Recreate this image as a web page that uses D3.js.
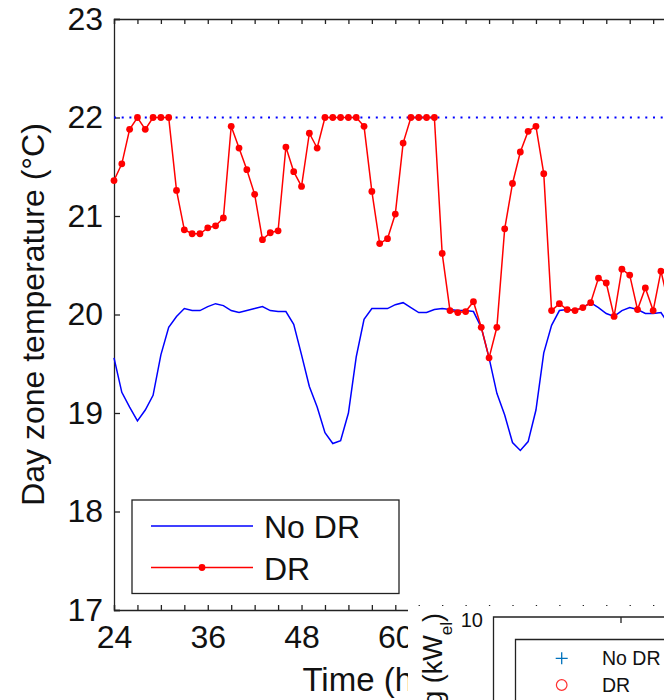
<!DOCTYPE html>
<html>
<head>
<meta charset="utf-8">
<script src="https://cdn.jsdelivr.net/npm/d3@7"></script>
<style>
  body { margin: 0; background: #fff; }
  text { font-family: "Liberation Sans", Arial, sans-serif; fill: #111; }
</style>
</head>
<body>
<div id="chartdiv"></div>
<script>
// data: hourly day zone temperature (°C), starting at hour 24
var startHour = 24;
var noDR = [19.56, 19.21, 19.06, 18.92, 19.03, 19.18, 19.59, 19.87, 19.98, 20.06,
            20.04, 20.04, 20.08, 20.11, 20.09, 20.04, 20.02, 20.04, 20.06, 20.08,
            20.04, 20.03, 20.03, 19.90, 19.59, 19.27, 19.06, 18.80, 18.69, 18.72,
            19.00, 19.57, 19.95, 20.06, 20.06, 20.06, 20.10, 20.12, 20.07, 20.02,
            20.02, 20.05, 20.06, 20.05, 20.04, 20.04, 20.03, 19.87, 19.56, 19.20,
            18.98, 18.70, 18.62, 18.71, 19.03, 19.61, 19.89, 20.04, 20.05, 20.04,
            20.07, 20.12, 20.07, 20.01, 19.98, 20.04, 20.07, 20.05, 20.01, 20.01,
            20.02, 19.90];
var withDR = [21.36, 21.53, 21.88, 22.00, 21.88, 22.00, 22.00, 22.00, 21.26, 20.86,
              20.82, 20.82, 20.88, 20.90, 20.98, 21.91, 21.69, 21.47, 21.22, 20.76,
              20.83, 20.85, 21.70, 21.45, 21.30, 21.84, 21.69, 22.00, 22.00, 22.00,
              22.00, 22.00, 21.91, 21.25, 20.72, 20.77, 21.02, 21.74, 22.00, 22.00,
              22.00, 22.00, 20.62, 20.04, 20.02, 20.03, 20.13, 19.87, 19.56, 19.87,
              20.87, 21.33, 21.65, 21.86, 21.91, 21.43, 20.04, 20.11, 20.05, 20.04,
              20.07, 20.12, 20.37, 20.32, 19.98, 20.46, 20.40, 20.05, 20.27, 20.04,
              20.44, 20.10];
var setpoint = 22;
var xTicks = [24, 27, 30, 33, 36, 39, 42, 45, 48, 51, 54, 57, 60, 63, 66, 69, 72, 75, 78, 81, 84, 87, 90, 93, 96];
var xLabels = [24, 36, 48, 60, 72, 84, 96];
var yTicks = [17, 18, 19, 20, 21, 22, 23];
var legendNames = ["No DR", "DR"];

var axisColor = "#222";

var svg = d3.select("#chartdiv").append("svg")
    .attr("width", 664)
    .attr("height", 700);

// scales
var x = d3.scaleLinear().domain([24, 96]).range([114, 676.6]);
var y = d3.scaleLinear().domain([17, 23]).range([610, 19]);

var line = d3.line()
    .x(function(d, i){return x(startHour + i);})
    .y(function(d){return y(d);});

// axes (ticks inward, like matlab)
var gx = svg.append("g")
    .attr("transform", "translate(0,610)")
    .call(d3.axisBottom(x).tickValues(xTicks).tickSize(-5).tickPadding(15)
          .tickFormat(function(d){return xLabels.indexOf(d) >= 0 ? d : "";}));
var gxTop = svg.append("g")
    .attr("transform", "translate(0,19)")
    .call(d3.axisTop(x).tickValues(xTicks).tickSize(-5).tickFormat(""));
var gy = svg.append("g")
    .attr("transform", "translate(114,0)")
    .call(d3.axisLeft(y).tickValues(yTicks).tickSize(-6).tickPadding(11)
          .tickFormat(d3.format("d")));

[gx, gxTop, gy].forEach(function(g){
    g.selectAll("path").attr("stroke", axisColor).attr("stroke-width", 1.3);
    g.selectAll("line").attr("stroke", axisColor).attr("stroke-width", 1.3);
    g.selectAll("text").style("font-size", "32px").attr("fill", "#111");
});

// axis labels
svg.append("text")
    .attr("transform", "translate(43.5," + ((y(17) + y(23)) / 2) + ") rotate(-90)")
    .attr("text-anchor", "middle")
    .style("font-size", "32px")
    .text("Day zone temperature (°C)");

svg.append("text")
    .attr("x", (x(24) + x(96)) / 2)
    .attr("y", 691)
    .attr("text-anchor", "middle")
    .style("font-size", "33px")
    .text("Time (hours)");

// setpoint dotted line
svg.append("line")
    .attr("x1", x(24)).attr("x2", x(96))
    .attr("y1", y(setpoint)).attr("y2", y(setpoint))
    .attr("stroke", "#0000ff")
    .attr("stroke-width", 1.8)
    .attr("stroke-dasharray", "2,5.7");

// series
svg.append("path")
    .datum(noDR)
    .attr("d", line)
    .attr("fill", "none")
    .attr("stroke", "#0000ff")
    .attr("stroke-width", 1.5);

svg.append("path")
    .datum(withDR)
    .attr("d", line)
    .attr("fill", "none")
    .attr("stroke", "#ff0000")
    .attr("stroke-width", 1.5);

svg.selectAll()
    .data(withDR).enter()
    .append("circle")
    .attr("cx", function(d, i){return x(startHour + i);})
    .attr("cy", function(d){return y(d);})
    .attr("r", 3.4)
    .style("fill", "#ff0000");

// legend
var legend = svg.append("g");
legend.append("rect")
    .attr("x", 132).attr("y", 500)
    .attr("width", 267).attr("height", 93.5)
    .attr("fill", "#fff")
    .attr("stroke", axisColor)
    .attr("stroke-width", 1.3);
var legendColors = ["#0000ff", "#ff0000"];
var legendY = [526, 567.5];
legendNames.forEach(function(name, i){
    legend.append("line")
        .attr("x1", 151).attr("x2", 253)
        .attr("y1", legendY[i]).attr("y2", legendY[i])
        .attr("stroke", legendColors[i])
        .attr("stroke-width", 1.3);
    if (i == 1) {
        legend.append("circle")
            .attr("cx", 202).attr("cy", legendY[i])
            .attr("r", 3.4)
            .style("fill", legendColors[i]);
    }
    legend.append("text")
        .attr("x", 264)
        .attr("y", legendY[i] + 12)
        .style("font-size", "32px")
        .text(name);
});

// neighbouring subplot covers the lower right corner
svg.append("rect")
    .attr("x", 408).attr("y", 606)
    .attr("width", 256).attr("height", 94)
    .attr("fill", "#fff");

var sub = svg.append("g");
sub.append("path")
    .attr("d", "M664,617H493.5V700")
    .attr("fill", "none")
    .attr("stroke", axisColor)
    .attr("stroke-width", 1.3);
sub.append("line")
    .attr("x1", 621).attr("x2", 621)
    .attr("y1", 617).attr("y2", 623)
    .attr("stroke", axisColor)
    .attr("stroke-width", 1.3);
sub.append("text")
    .attr("x", 483).attr("y", 626.5)
    .attr("text-anchor", "end")
    .style("font-size", "20px")
    .attr("fill", "#333")
    .text("10");

var subLabel = sub.append("text")
    .attr("transform", "translate(442,613) rotate(-90)")
    .attr("text-anchor", "end")
    .style("font-size", "27px")
    .attr("fill", "#333");
subLabel.append("tspan").text("Power for heating (kW");
subLabel.append("tspan").attr("baseline-shift", "sub").style("font-size", "17px").text("el");
subLabel.append("tspan").text(")");

sub.append("path")
    .attr("d", "M664,639.5H515.5V700")
    .attr("fill", "#fff")
    .attr("stroke", axisColor)
    .attr("stroke-width", 1.3);
sub.append("path")
    .attr("d", "M555.7,658.3H567.7M561.7,652.3V664.3")
    .attr("stroke", "#0072bd")
    .attr("stroke-width", 1.3);
sub.append("circle")
    .attr("cx", 561.7).attr("cy", 685)
    .attr("r", 5.3)
    .attr("fill", "none")
    .attr("stroke", "#ff3030")
    .attr("stroke-width", 1.2);
legendNames.forEach(function(name, i){
    sub.append("text")
        .attr("x", 602)
        .attr("y", [665, 692][i])
        .style("font-size", "19.5px")
        .attr("fill", "#111")
        .text(name);
});
</script>
</body>
</html>
